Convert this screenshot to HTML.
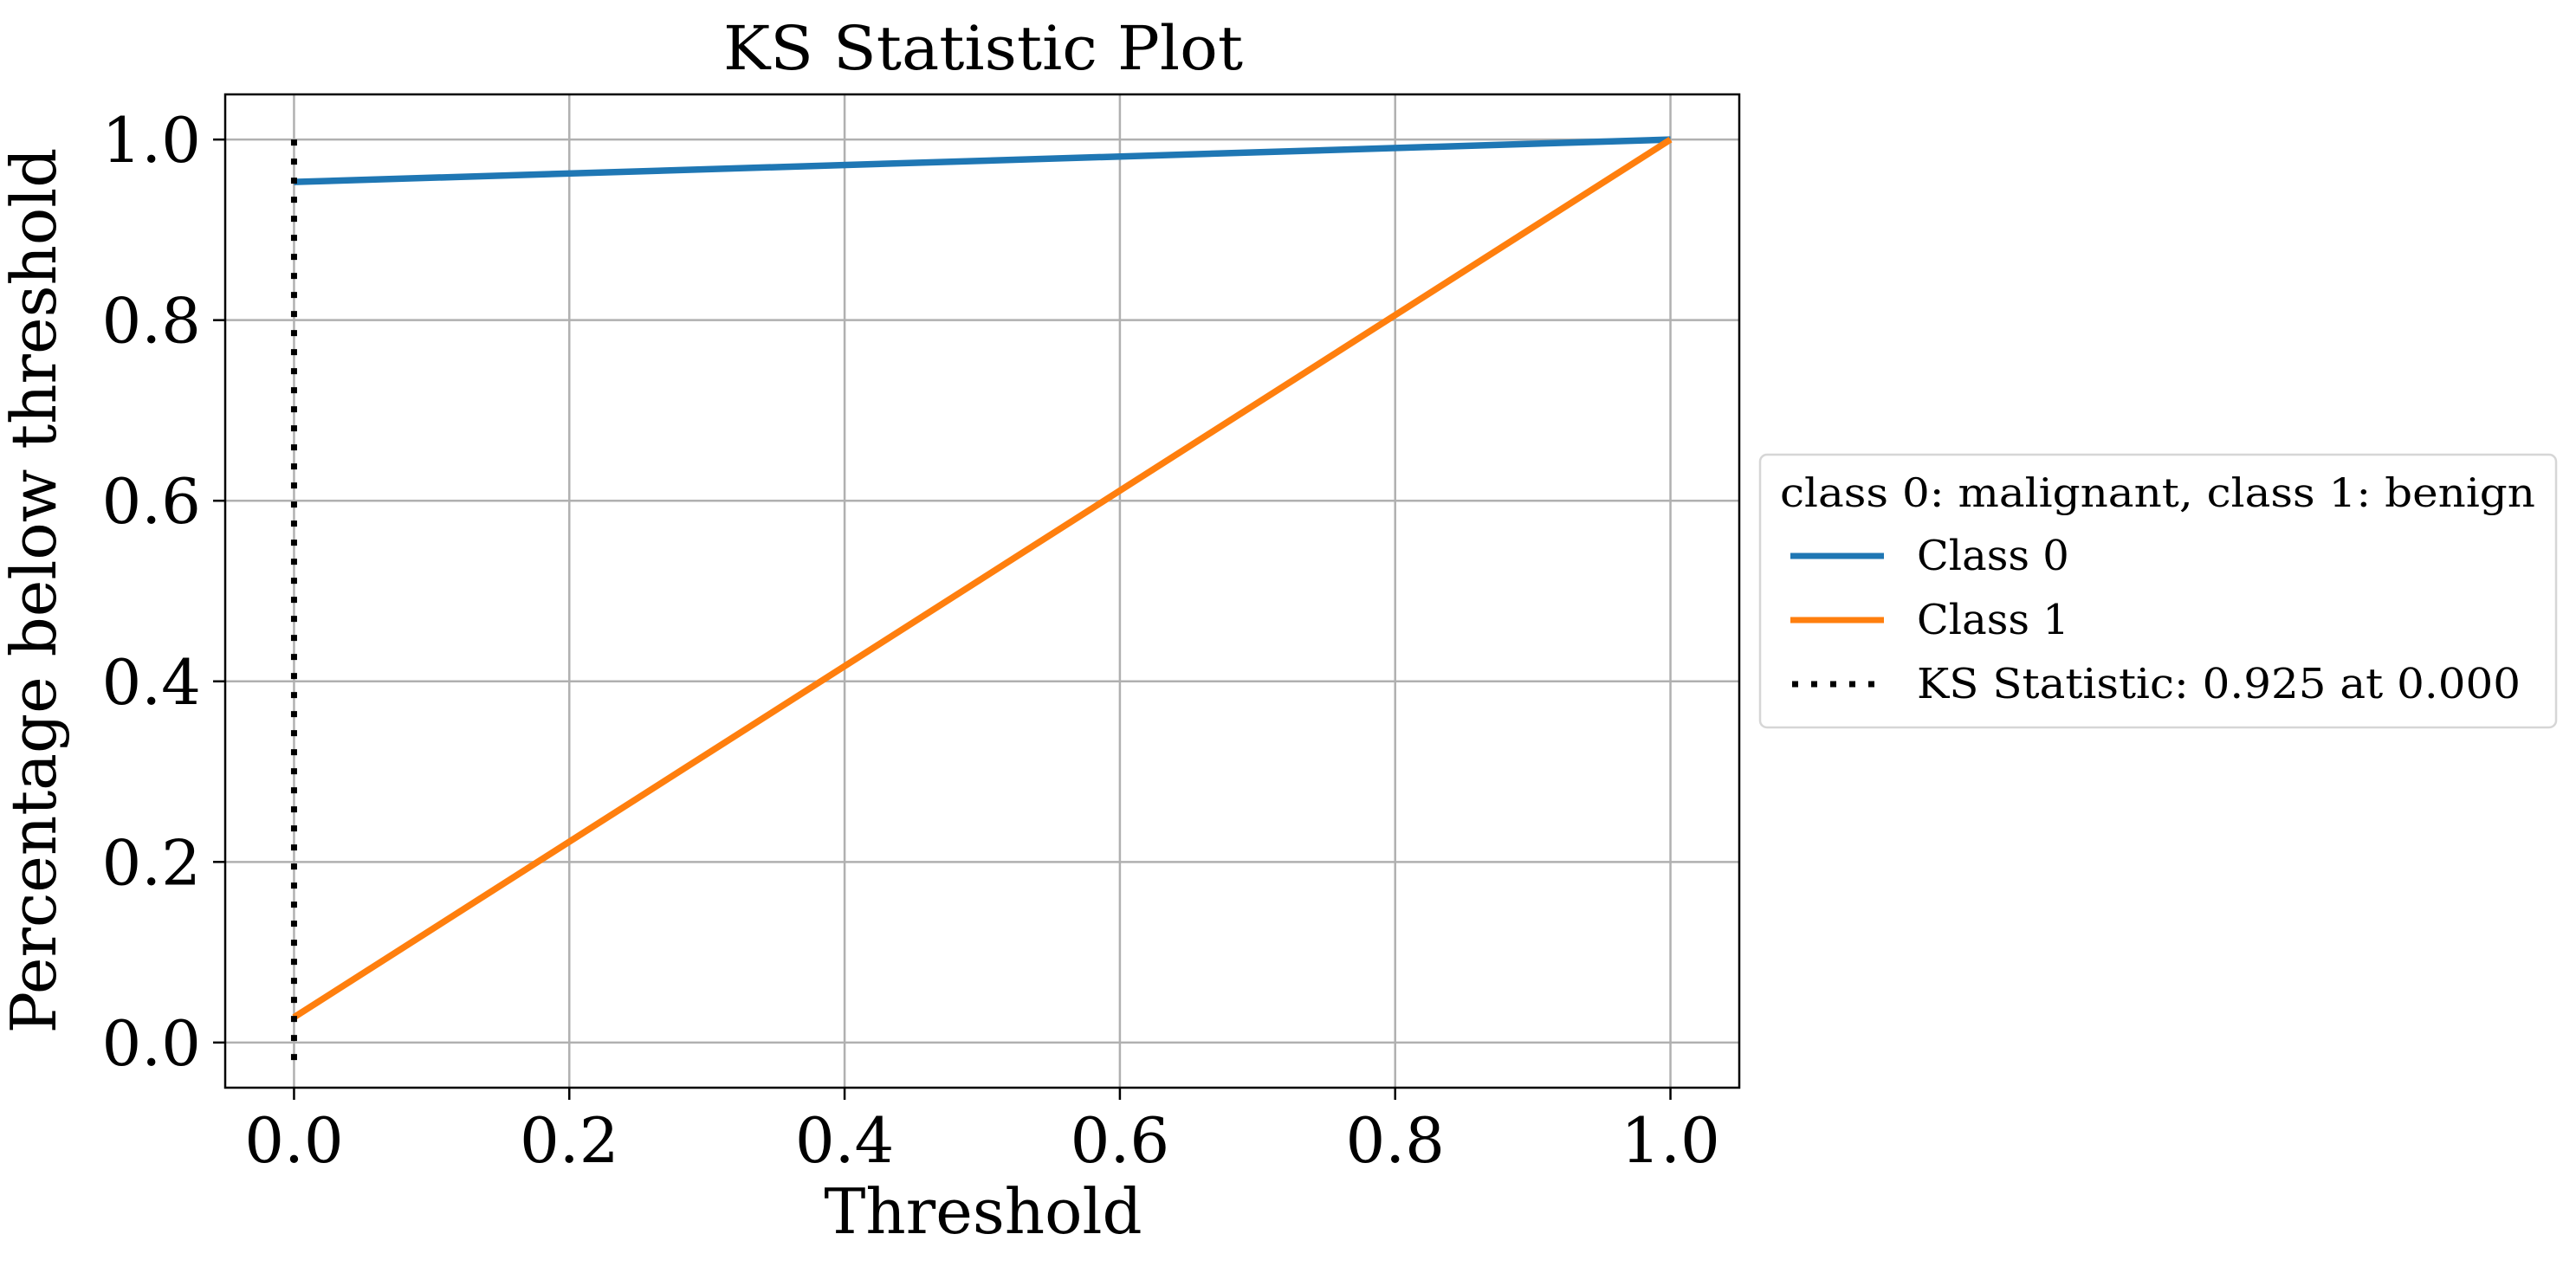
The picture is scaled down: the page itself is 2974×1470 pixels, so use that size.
<!DOCTYPE html>
<html><head><meta charset="utf-8"><style>
html,body{margin:0;padding:0;background:#fff;}
svg{display:block;font-family:"DejaVu Serif","Liberation Serif",serif;}
</style></head><body>
<svg id="chart" width="2974" height="1470" viewBox="0 0 2974 1470">
<rect width="2974" height="1470" fill="#fff"/>
<g id="grid"></g>
<g id="series"></g>
<rect x="260" y="109" width="1748" height="1147" fill="none" stroke="#000" stroke-width="2.5"/>
<g id="ticks"></g>
<text x="1135" y="80" font-size="70" text-anchor="middle" textLength="600" lengthAdjust="spacingAndGlyphs">KS Statistic Plot</text>
<text x="1135" y="1424" font-size="72" text-anchor="middle">Threshold</text>
<text x="0" y="0" font-size="72" text-anchor="middle" transform="translate(64,682) rotate(-90)">Percentage below threshold</text>
<g>
<rect x="2032" y="525" width="919" height="315" rx="8" fill="#fff" stroke="#d6d6d6" stroke-width="2.5"/>
<text x="2055" y="585" font-size="46" textLength="872" lengthAdjust="spacingAndGlyphs">class 0: malignant, class 1: benign</text>
<line x1="2067" y1="642" x2="2175" y2="642" stroke="#1f77b4" stroke-width="7"/>
<text x="2213" y="658" font-size="48">Class 0</text>
<line x1="2067" y1="716" x2="2175" y2="716" stroke="#ff7f0e" stroke-width="7"/>
<text x="2213" y="732" font-size="48">Class 1</text>
<line x1="2069" y1="790" x2="2175" y2="790" stroke="#000" stroke-width="7" stroke-dasharray="7 15"/>
<text x="2213" y="806" font-size="48" textLength="697" lengthAdjust="spacingAndGlyphs">KS Statistic: 0.925 at 0.000</text>
</g>
</svg>
<script>
const thresholds = [0, 1];
const class0Values = [0.953, 1.0];
const class1Values = [0.028, 1.0];
const ksThreshold = [0];
const ksRange = [-0.02, 1.0];
const xTicks = [0, 0.2, 0.4, 0.6, 0.8, 1.0];
const yTicks = [0, 0.2, 0.4, 0.6, 0.8, 1.0];
const xTickLabels = ["0.0","0.2","0.4","0.6","0.8","1.0"];
const yTickLabels = ["0.0","0.2","0.4","0.6","0.8","1.0"];

const NS = "http://www.w3.org/2000/svg";
const L = 260, R = 2008, T = 109, B = 1256;
const xMin = -0.05, xMax = 1.05, yMin = -0.05, yMax = 1.05;
function sx(v){ return L + (v - xMin) / (xMax - xMin) * (R - L); }
function sy(v){ return B - (v - yMin) / (yMax - yMin) * (B - T); }
function mk(tag, attrs, parent){
  const e = document.createElementNS(NS, tag);
  for (const k in attrs) e.setAttribute(k, attrs[k]);
  parent.appendChild(e);
  return e;
}
const grid = document.getElementById('grid');
const ticks = document.getElementById('ticks');
const series = document.getElementById('series');

xTicks.forEach((v, i) => {
  const g = mk('line', {x1: sx(v), x2: sx(v), y1: T, y2: B, stroke: '#b0b0b0', 'stroke-width': 2.5}, grid);
  
  
  const t = mk('line', {x1: sx(v), x2: sx(v), y1: B, y2: B + 14, stroke: '#000', 'stroke-width': 2.5}, ticks);
  
  
  const lb = mk('text', {x: sx(v), y: 1342, 'font-size': 72, 'text-anchor': 'middle'}, ticks);
  lb.textContent = xTickLabels[i];
  
  
});
yTicks.forEach((v, i) => {
  const g = mk('line', {x1: L, x2: R, y1: sy(v), y2: sy(v), stroke: '#b0b0b0', 'stroke-width': 2.5}, grid);
  
  
  const t = mk('line', {x1: L - 14, x2: L, y1: sy(v), y2: sy(v), stroke: '#000', 'stroke-width': 2.5}, ticks);
  
  
  const lb = mk('text', {x: 232, y: sy(v) + 26, 'font-size': 72, 'text-anchor': 'end'}, ticks);
  lb.textContent = yTickLabels[i];
  
  
});
function pts(xs, ys){ return xs.map((x, i) => sx(x) + ',' + sy(ys[i])).join(' '); }
const c0 = mk('polyline', {points: pts(thresholds, class0Values), fill: 'none', stroke: '#1f77b4', 'stroke-width': 7.5}, series);


const c1 = mk('polyline', {points: pts(thresholds, class1Values), fill: 'none', stroke: '#ff7f0e', 'stroke-width': 7.5}, series);


const ks = mk('line', {x1: sx(ksThreshold[0]), x2: sx(ksThreshold[0]), y1: sy(ksRange[1]), y2: sy(ksRange[0]), stroke: '#000', 'stroke-width': 7, 'stroke-dasharray': '7 15'}, series);


</script>
</body></html>
